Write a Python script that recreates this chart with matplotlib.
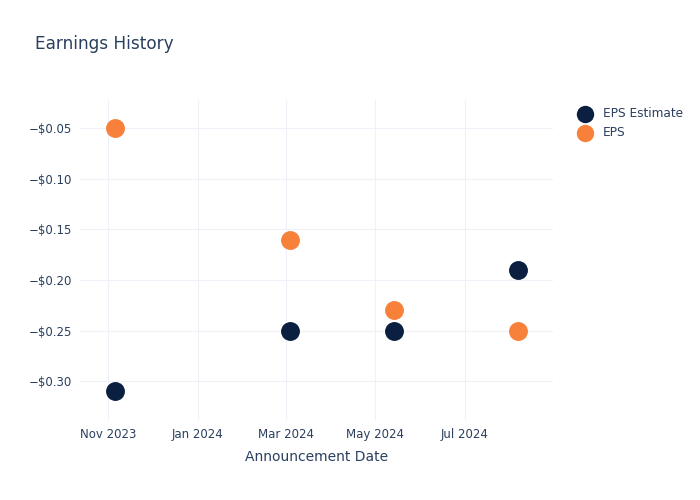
import matplotlib
matplotlib.use("Agg")
import matplotlib.pyplot as plt
import matplotlib.dates as mdates
import matplotlib.ticker as ticker
import pandas as pd

# Data
dates = pd.to_datetime(["2023-11-06", "2024-03-04", "2024-05-14", "2024-08-06"])
eps_estimate = [-0.31, -0.25, -0.25, -0.19]
eps_actual = [-0.05, -0.16, -0.23, -0.25]

TEXT = "#2a3f5f"
GRID = "#eef1f8"
NAVY = "#0b1f40"
ORANGE = "#f7803a"

plt.rcParams["font.family"] = ["DejaVu Sans"]

fig = plt.figure(figsize=(7, 5), dpi=100)
ax = fig.add_axes([80 / 700, 80 / 500, 473 / 700, 320 / 500])

ax.scatter(dates, eps_estimate, s=185, color=NAVY, label="EPS Estimate", zorder=3,
           linewidths=0)
ax.scatter(dates, eps_actual, s=185, color=ORANGE, label="EPS", zorder=3,
           linewidths=0)

ax.set_xlim(pd.Timestamp("2023-10-13"), pd.Timestamp("2024-08-30"))
ax.set_ylim(-0.3385, -0.022)

ax.xaxis.set_major_locator(mdates.MonthLocator(bymonth=[1, 3, 5, 7, 11]))
ax.xaxis.set_major_formatter(mdates.DateFormatter("%b %Y"))
ax.yaxis.set_major_locator(ticker.FixedLocator([-0.30, -0.25, -0.20, -0.15, -0.10, -0.05]))
ax.yaxis.set_major_formatter(ticker.FuncFormatter(lambda v, _: f"\u2212${abs(v):.2f}"))

ax.grid(True, color=GRID, linewidth=0.8)
ax.set_axisbelow(True)
for s in ax.spines.values():
    s.set_visible(False)
ax.tick_params(length=0, labelsize=8.5, colors=TEXT, pad=6)

ax.set_xlabel("Announcement Date", fontsize=10, color=TEXT, labelpad=6)
fig.text(35 / 700, 1 - 44 / 500, "Earnings History", fontsize=12.2, color=TEXT, va="center")

leg = ax.legend(loc="upper left", bbox_to_anchor=(1.031, 0.993), frameon=False,
                fontsize=8.7, handletextpad=0.5, labelspacing=0.5, borderaxespad=0,
                markerscale=0.92)
for t in leg.get_texts():
    t.set_color(TEXT)

fig.savefig("out.png", dpi=100)
